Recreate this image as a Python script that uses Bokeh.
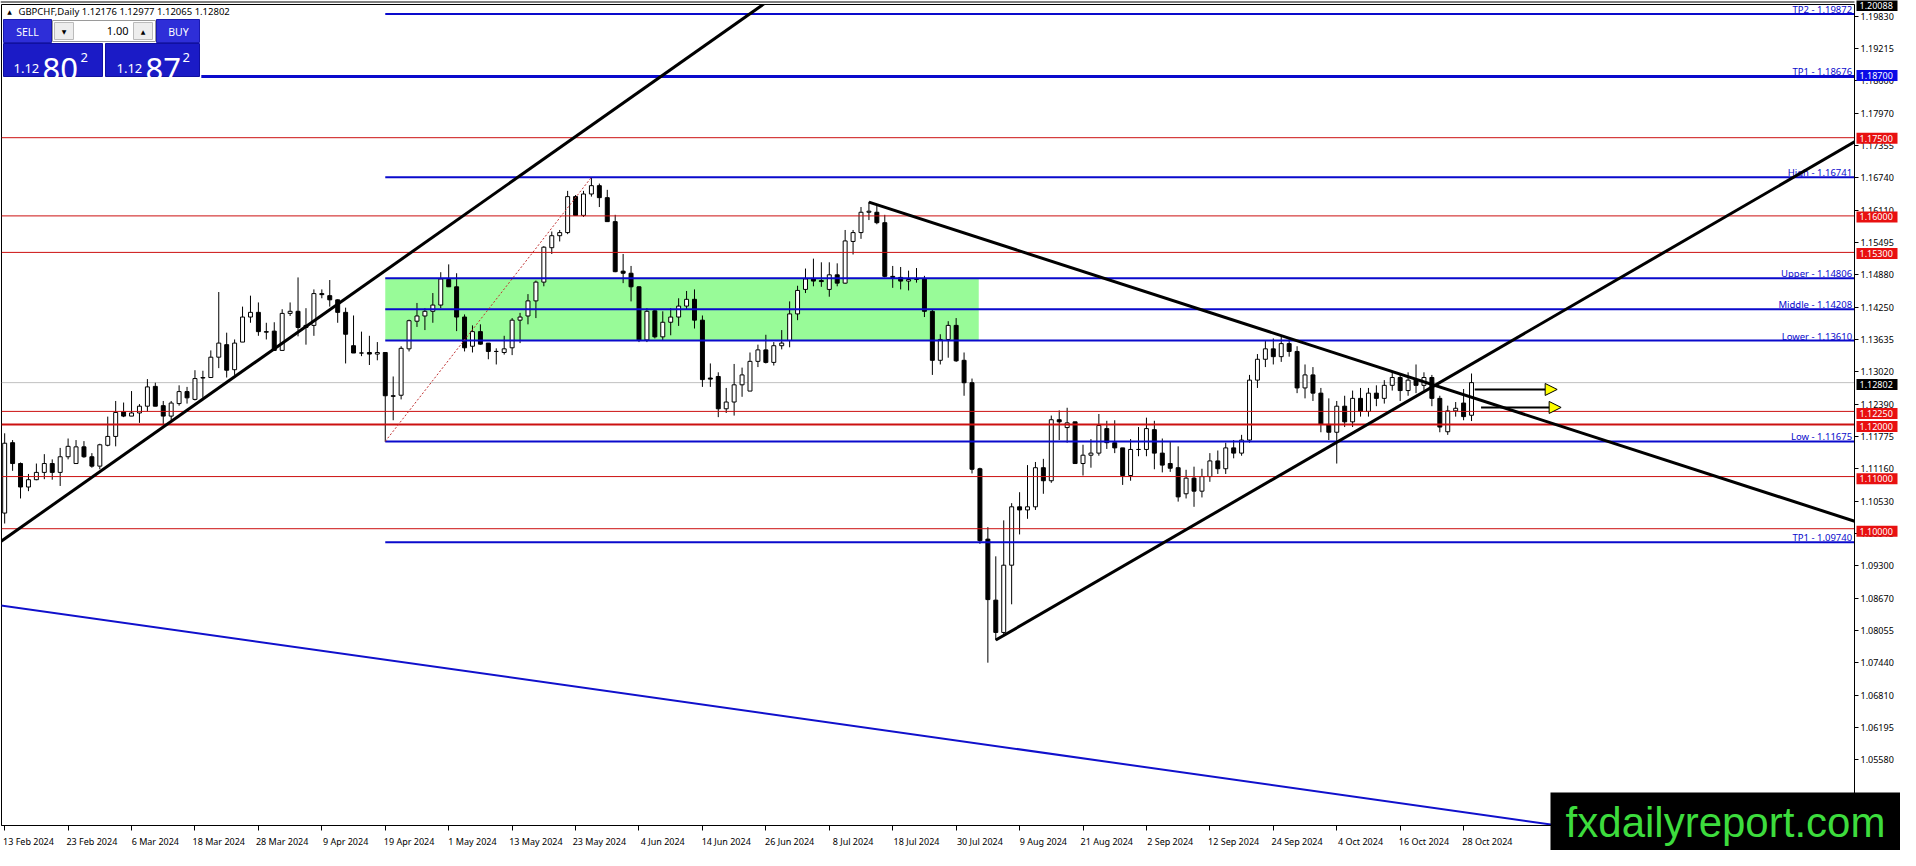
from bokeh.plotting import figure
from bokeh.models import (Range1d, FixedTicker, PrintfTickFormatter, Arrow, NormalHead,
                          ColumnDataSource, GridBox)
from bokeh.core.properties import value
from bokeh.embed import file_html
from bokeh.resources import INLINE

# GBPCHF daily candles, bar 0 = 13 Feb 2024
opens = [1.1030, 1.1165, 1.1125, 1.1080, 1.1094, 1.1108, 1.1125, 1.1108, 1.1138, 1.1125,
         1.1157, 1.1138, 1.1120, 1.1160, 1.1177, 1.1224, 1.1216, 1.1222, 1.1235, 1.1273,
         1.1236, 1.1216, 1.1240, 1.1263, 1.1248, 1.1289, 1.1290, 1.1329, 1.1353, 1.1305,
         1.1358, 1.1406, 1.1415, 1.1378, 1.1379, 1.1342, 1.1413, 1.1417, 1.1386, 1.1390,
         1.1451, 1.1447, 1.1439, 1.1415, 1.1351, 1.1337, 1.1338, 1.1335, 1.1338, 1.1255,
         1.1256, 1.1345, 1.1398, 1.1408, 1.1417, 1.1429, 1.1478, 1.1464, 1.1406, 1.1350,
         1.1378, 1.1356, 1.1340, 1.1338, 1.1347, 1.1400, 1.1408, 1.1437, 1.1473, 1.1539,
         1.1562, 1.1568, 1.1637, 1.1601, 1.1642, 1.1658, 1.1635, 1.1589, 1.1494, 1.1490,
         1.1464, 1.1362, 1.1418, 1.1368, 1.1396, 1.1406, 1.1427, 1.1440, 1.1400, 1.1289,
         1.1292, 1.1230, 1.1243, 1.1276, 1.1264, 1.1321, 1.1343, 1.1319, 1.1351, 1.1361,
         1.1412, 1.1459, 1.1479, 1.1476, 1.1459, 1.1487, 1.1471, 1.1551, 1.1568, 1.1607,
         1.1607, 1.1587, 1.1484, 1.1482, 1.1475, 1.1478, 1.1480, 1.1417, 1.1323, 1.1363,
         1.1390, 1.1323, 1.1280, 1.1115, 1.0980, 1.0863, 1.0801, 1.0930, 1.1042, 1.1036,
         1.1042, 1.1117, 1.1092, 1.1209, 1.1194, 1.1205, 1.1125, 1.1141, 1.1145, 1.1192,
         1.1165, 1.1155, 1.1102, 1.1152, 1.1152, 1.1190, 1.1145, 1.1125, 1.1117, 1.1067,
         1.1097, 1.1072, 1.1100, 1.1130, 1.1115, 1.1155, 1.1145, 1.1170, 1.1285, 1.1325,
         1.1345, 1.1330, 1.1355, 1.1340, 1.1270, 1.1295, 1.1260, 1.1200, 1.1185, 1.1235,
         1.1205, 1.1250, 1.1225, 1.1260, 1.1250, 1.1275, 1.1290, 1.1265, 1.1285, 1.1275,
         1.1290, 1.1250, 1.1186, 1.1226, 1.1241, 1.12176]
highs = [1.1183, 1.1170, 1.1127, 1.1105, 1.1125, 1.1143, 1.1133, 1.1155, 1.1173, 1.1170,
         1.1168, 1.1145, 1.1163, 1.1215, 1.1245, 1.1242, 1.1264, 1.1239, 1.1287, 1.1280,
         1.1245, 1.1245, 1.1275, 1.1272, 1.1304, 1.1303, 1.1342, 1.1454, 1.1376, 1.1363,
         1.1426, 1.1447, 1.1434, 1.1395, 1.1396, 1.1421, 1.1434, 1.1482, 1.1423, 1.1459,
         1.1459, 1.1477, 1.1440, 1.1424, 1.1409, 1.1378, 1.1370, 1.1358, 1.1338, 1.1292,
         1.1350, 1.1401, 1.1433, 1.1423, 1.1452, 1.1492, 1.1507, 1.1490, 1.1411, 1.1390,
         1.1392, 1.1356, 1.1346, 1.1370, 1.1404, 1.1414, 1.1450, 1.1476, 1.1542, 1.1570,
         1.1573, 1.1648, 1.1640, 1.1648, 1.1674, 1.1662, 1.1650, 1.1602, 1.1527, 1.1504,
         1.1465, 1.1423, 1.1420, 1.1417, 1.1423, 1.1442, 1.1456, 1.1459, 1.1409, 1.1317,
         1.1300, 1.1270, 1.1316, 1.1309, 1.1338, 1.1353, 1.1372, 1.1358, 1.1381, 1.1436,
         1.1466, 1.1499, 1.1518, 1.1511, 1.1511, 1.1509, 1.1573, 1.1573, 1.1617, 1.1627,
         1.1619, 1.1602, 1.1504, 1.1502, 1.1495, 1.1500, 1.1485, 1.1420, 1.1373, 1.1398,
         1.1404, 1.1338, 1.1288, 1.1117, 1.1003, 1.0947, 1.1016, 1.1049, 1.1070, 1.1122,
         1.1128, 1.1134, 1.1217, 1.1227, 1.1232, 1.1205, 1.1161, 1.1172, 1.1220, 1.1207,
         1.1208, 1.1155, 1.1172, 1.1195, 1.1213, 1.1207, 1.1173, 1.1167, 1.1158, 1.1113,
         1.1119, 1.1115, 1.1145, 1.1150, 1.1165, 1.1170, 1.1180, 1.1295, 1.1335, 1.1360,
         1.1365, 1.1368, 1.1366, 1.1350, 1.1315, 1.1310, 1.1270, 1.1250, 1.1245, 1.1255,
         1.1265, 1.1270, 1.1270, 1.1275, 1.1285, 1.1300, 1.1295, 1.1300, 1.1315, 1.1300,
         1.1295, 1.1255, 1.1236, 1.1243, 1.1268, 1.12977]
lows = [1.1010, 1.1111, 1.1058, 1.1072, 1.1093, 1.1095, 1.1094, 1.1082, 1.1133, 1.1125,
        1.1136, 1.1117, 1.1114, 1.1158, 1.1158, 1.1214, 1.1216, 1.1203, 1.1225, 1.1235,
        1.1198, 1.1208, 1.1236, 1.1240, 1.1246, 1.1251, 1.1289, 1.1308, 1.1290, 1.1295,
        1.1358, 1.1395, 1.1370, 1.1363, 1.1342, 1.1342, 1.1408, 1.1369, 1.1353, 1.1370,
        1.1442, 1.1426, 1.1395, 1.1317, 1.1337, 1.1331, 1.1314, 1.1323, 1.1167, 1.1208,
        1.1248, 1.1340, 1.1387, 1.1381, 1.1395, 1.1423, 1.1464, 1.1379, 1.1340, 1.1338,
        1.1353, 1.1325, 1.1315, 1.1334, 1.1333, 1.1356, 1.1392, 1.1404, 1.1465, 1.1527,
        1.1551, 1.1565, 1.1601, 1.1598, 1.1637, 1.1617, 1.1589, 1.1492, 1.1471, 1.1436,
        1.1358, 1.1358, 1.1365, 1.1362, 1.1371, 1.1389, 1.1420, 1.1384, 1.1272, 1.1272,
        1.1214, 1.1222, 1.1217, 1.1253, 1.1264, 1.1310, 1.1317, 1.1313, 1.1344, 1.1348,
        1.1400, 1.1452, 1.1465, 1.1464, 1.1445, 1.1465, 1.1470, 1.1526, 1.1556, 1.1592,
        1.1584, 1.1482, 1.1462, 1.1459, 1.1457, 1.1472, 1.1406, 1.1295, 1.1315, 1.1328,
        1.1320, 1.1255, 1.1106, 1.0971, 1.0743, 1.0786, 1.0796, 1.0855, 1.0989, 1.1019,
        1.1036, 1.1067, 1.1088, 1.1170, 1.1165, 1.1125, 1.1102, 1.1117, 1.1140, 1.1153,
        1.1145, 1.1084, 1.1092, 1.1139, 1.1139, 1.1114, 1.1108, 1.1109, 1.1052, 1.1058,
        1.1042, 1.1060, 1.1090, 1.1105, 1.1105, 1.1135, 1.1140, 1.1165, 1.1270, 1.1310,
        1.1315, 1.1320, 1.1330, 1.1260, 1.1250, 1.1245, 1.1185, 1.1170, 1.1125, 1.1195,
        1.1195, 1.1215, 1.1215, 1.1235, 1.1240, 1.1265, 1.1245, 1.1255, 1.1260, 1.1265,
        1.1235, 1.1185, 1.1180, 1.1215, 1.1208, 1.12065]
closes = [1.1164, 1.1125, 1.1080, 1.1094, 1.1108, 1.1125, 1.1108, 1.1138, 1.1158, 1.1157,
          1.1138, 1.1120, 1.1161, 1.1177, 1.1223, 1.1216, 1.1222, 1.1235, 1.1272, 1.1235,
          1.1216, 1.1241, 1.1263, 1.1251, 1.1288, 1.1290, 1.1329, 1.1356, 1.1304, 1.1356,
          1.1406, 1.1415, 1.1378, 1.1377, 1.1342, 1.1413, 1.1417, 1.1386, 1.1390, 1.1451,
          1.1449, 1.1439, 1.1415, 1.1373, 1.1337, 1.1337, 1.1335, 1.1338, 1.1255, 1.1254,
          1.1346, 1.1399, 1.1408, 1.1417, 1.1429, 1.1479, 1.1464, 1.1406, 1.1347, 1.1378,
          1.1354, 1.1340, 1.1340, 1.1345, 1.1400, 1.1406, 1.1437, 1.1473, 1.1540, 1.1562,
          1.1568, 1.1637, 1.1601, 1.1642, 1.1658, 1.1635, 1.1589, 1.1493, 1.1490, 1.1464,
          1.1362, 1.1417, 1.1368, 1.1396, 1.1406, 1.1427, 1.1440, 1.1400, 1.1286, 1.1287,
          1.1230, 1.1243, 1.1276, 1.1295, 1.1321, 1.1343, 1.1319, 1.1351, 1.1356, 1.1412,
          1.1457, 1.1479, 1.1475, 1.1474, 1.1487, 1.1471, 1.1552, 1.1568, 1.1607, 1.1609,
          1.1587, 1.1484, 1.1482, 1.1475, 1.1478, 1.1480, 1.1417, 1.1323, 1.1363, 1.1390,
          1.1322, 1.1280, 1.1114, 1.0977, 1.0864, 1.0801, 1.0930, 1.1042, 1.1036, 1.1042,
          1.1117, 1.1092, 1.1209, 1.1205, 1.1203, 1.1125, 1.1141, 1.1145, 1.1198, 1.1165,
          1.1155, 1.1102, 1.1152, 1.1152, 1.1192, 1.1145, 1.1122, 1.1116, 1.1061, 1.1097,
          1.1072, 1.1100, 1.1130, 1.1115, 1.1155, 1.1145, 1.1170, 1.1285, 1.1325, 1.1345,
          1.1330, 1.1355, 1.1340, 1.1270, 1.1295, 1.1260, 1.1200, 1.1185, 1.1235, 1.1205,
          1.1250, 1.1225, 1.1260, 1.1250, 1.1275, 1.1290, 1.1265, 1.1285, 1.1275, 1.1290,
          1.1250, 1.1195, 1.1226, 1.1231, 1.1215, 1.12802]

tick_bars = list(range(0, 185, 8))
tick_labels = ["13 Feb 2024", "23 Feb 2024", "6 Mar 2024", "18 Mar 2024", "28 Mar 2024",
               "9 Apr 2024", "19 Apr 2024", "1 May 2024", "13 May 2024", "23 May 2024",
               "4 Jun 2024", "14 Jun 2024", "26 Jun 2024", "8 Jul 2024", "18 Jul 2024",
               "30 Jul 2024", "9 Aug 2024", "21 Aug 2024", "2 Sep 2024", "12 Sep 2024",
               "24 Sep 2024", "4 Oct 2024", "16 Oct 2024", "28 Oct 2024"]
price_ticks = [1.19830, 1.19215, 1.18600, 1.17970, 1.17355, 1.16740, 1.16110, 1.15495,
               1.14880, 1.14250, 1.13635, 1.13020, 1.12390, 1.11775, 1.11160, 1.10530,
               1.09915, 1.09300, 1.08670, 1.08055, 1.07440, 1.06810, 1.06195, 1.05580]

# objects on the chart
blue_names = ["TP2", "TP1", "High", "Upper", "Middle", "Lower", "Low", "TP1"]
blue_levels = [1.19872, 1.18676, 1.16741, 1.14806, 1.14208, 1.13610, 1.11675, 1.09740]
blue_start = [48, 24.8, 48, 48, 48, 48, 48, 48]
blue_width = [2, 3, 2, 2, 2, 2, 2, 2]
red_levels = [1.17500, 1.16000, 1.15300, 1.12250, 1.12000, 1.11000, 1.10000]
red_width = [1, 1, 1, 1, 2, 1, 1]
bid_price = 1.12802
zone_bars = [48, 122.85]
zone_prices = [1.13610, 1.14806]
fib_bars = [48, 74]
fib_prices = [1.11675, 1.16741]
# trend lines: two anchor points each (bar, price)
trend_a = [(20, 1.1195), (34, 1.1345)]
trend_b = [(109, 1.16263), (162, 1.13654)]
trend_c = [(125, 1.07864), (185, 1.13158)]
trend_blue = [(0, 1.08519), (200, 1.04219)]
arrow_from = [185.4, 186.2]
arrow_to = [195.8, 196.3]
arrow_prices = [1.12671, 1.12326]
box_prices = [1.20088, 1.18700, 1.17500, 1.16000, 1.15300, 1.12802, 1.12250, 1.12000, 1.11000, 1.10000]
box_colors = ["black", "#0A0AE6", "#E81010", "#E81010", "#E81010", "black",
              "#E81010", "#E81010", "#E81010", "#E81010"]

W, H = 1900, 850
BL, BR, BT, BB = 1, 46, 4, 21
FRAME_W, FRAME_H = W - BL - BR, H - BT - BB
X_START, X_END = -0.4, 233.3
Y_START, Y_END = 1.04307, 1.20055
BLUE = "#0A0ACC"
RED = "#CC1010"
FONT = "Noto Sans"

p = figure(width=W, height=H, x_range=Range1d(X_START, X_END), y_range=Range1d(Y_START, Y_END),
           y_axis_location="right", toolbar_location=None, output_backend="svg",
           min_border_left=BL, min_border_right=BR, min_border_top=BT, min_border_bottom=BB)
p.xgrid.visible = False
p.ygrid.visible = False
p.outline_line_color = "black"
p.background_fill_color = "white"
p.border_fill_color = "white"

yax = p.yaxis[0]
yax.ticker = FixedTicker(ticks=price_ticks)
yax.formatter = PrintfTickFormatter(format="%.5f")
yax.major_tick_out = 4
yax.major_tick_in = 0
yax.minor_tick_out = 0
yax.minor_tick_in = 0
yax.major_label_standoff = 2
yax.major_label_text_font = FONT
yax.major_label_text_font_size = "9px"
yax.major_label_text_color = "black"
yax.axis_line_color = "black"

# MT4 labels start at the tick: labels sit a few bars right, the ticks are minor ticks
xax = p.xaxis[0]
xax.ticker = FixedTicker(ticks=[b + 3 for b in tick_bars], minor_ticks=tick_bars)
xax.major_label_overrides = {b + 3: t for b, t in zip(tick_bars, tick_labels)}
xax.major_tick_out = 0
xax.major_tick_in = 0
xax.minor_tick_out = 5
xax.minor_tick_in = 0
xax.minor_tick_line_color = "black"
xax.major_label_standoff = 4
xax.major_label_text_font = FONT
xax.major_label_text_font_size = "9px"
xax.major_label_text_color = "black"
xax.axis_line_color = "black"

# green zone (background)
p.quad(left=[zone_bars[0]], right=[zone_bars[1]], bottom=[zone_prices[0]], top=[zone_prices[1]],
       fill_color="#98FB98", line_color=None)

# bid line
p.segment(x0=[X_START], x1=[X_END], y0=[bid_price], y1=[bid_price], line_color="#C0C0C0", line_width=1)

# candles
n = len(opens)
src = ColumnDataSource(dict(
    x=list(range(n)), h=highs, l=lows,
    top=[max(o, c) for o, c in zip(opens, closes)],
    bottom=[min(o, c) for o, c in zip(opens, closes)],
    fill=["white" if c >= o else "black" for o, c in zip(opens, closes)],
))
p.segment(x0="x", y0="h", x1="x", y1="l", source=src, line_color="black", line_width=1)
p.vbar(x="x", width=0.5, top="top", bottom="bottom", source=src,
       fill_color="fill", line_color="black", line_width=1)

# horizontal levels
p.segment(x0=[X_START] * len(red_levels), x1=[X_END] * len(red_levels), y0=red_levels, y1=red_levels,
          line_color=RED, line_width=red_width)
p.segment(x0=blue_start, x1=[X_END] * len(blue_levels), y0=blue_levels, y1=blue_levels,
          line_color=BLUE, line_width=blue_width)
p.text(x=[X_END - 0.3] * len(blue_levels), y=blue_levels,
       text=[f"{nm} - {lv:.5f}" for nm, lv in zip(blue_names, blue_levels)],
       text_align="right", text_baseline="bottom", y_offset=2, text_font=value(FONT),
       text_font_size="9.5px", text_color=BLUE)

# dotted fib line
p.line(fib_bars, fib_prices, line_color="#C03030", line_width=1, line_dash="2 2")


def ray(anchor, x_from, x_to):
    (xa, ya), (xb, yb) = anchor
    k = (yb - ya) / (xb - xa)
    return [x_from, x_to], [ya + k * (x_from - xa), ya + k * (x_to - xa)]


for anchor, x0, x1, col, lw in [(trend_a, -2, 110, "black", 3),
                                (trend_b, trend_b[0][0], 240, "black", 3),
                                (trend_c, trend_c[0][0], 240, "black", 3),
                                (trend_blue, -2, 240, "#1010CC", 2)]:
    xs, ys = ray(anchor, x0, x1)
    p.line(xs, ys, line_color=col, line_width=lw)

for xa, xb, yy in zip(arrow_from, arrow_to, arrow_prices):
    p.add_layout(Arrow(x_start=xa, y_start=yy, x_end=xb, y_end=yy, line_color="black", line_width=2,
                       end=NormalHead(size=12, fill_color="#FFFF00", line_color="black", line_width=1)))

# overlay figure in canvas pixels (y down) for things drawn over the axes
ov = figure(width=W, height=H, x_range=Range1d(0, W), y_range=Range1d(H, 0),
            x_axis_location=None, y_axis_location=None, toolbar_location=None,
            output_backend="svg", min_border_left=0, min_border_right=0,
            min_border_top=0, min_border_bottom=0)
ov.outline_line_color = None
ov.background_fill_alpha = 0
ov.border_fill_alpha = 0
ov.grid.visible = False
# keep the overlay frame on the full canvas instead of aligning it with the chart frame
for fig in (p, ov):
    if "frame_align" in fig.properties():
        fig.frame_align = False


def price_y(pr):
    return BT + (Y_END - pr) / (Y_END - Y_START) * FRAME_H


AX = BL + FRAME_W
# double window border at the top
ov.segment(x0=[0], x1=[AX], y0=[1.5], y1=[1.5], line_color="black", line_width=1)

box_y = [max(price_y(pr), 5.0) for pr in box_prices]
ov.quad(left=AX + 2, right=AX + 43, top=[y - 5.5 for y in box_y], bottom=[y + 5.5 for y in box_y],
        fill_color=box_colors, line_color=None)
ov.text(x=AX + 5, y=box_y, text=[f"{pr:.5f}" for pr in box_prices], text_baseline="middle",
        text_align="left", text_font=value(FONT), text_font_size="9px", text_color="white")


def pbox(x0, x1, y0, y1, fill, line=None):
    ov.quad(left=[x0], right=[x1], top=[y0], bottom=[y1], fill_color=fill,
            line_color=line if line else None)


def ptext(x, y, text, size, color="white", align="left", baseline="alphabetic", font=FONT):
    ov.text(x=[x], y=[y], text=[text], text_font=value(font), text_font_size=size,
            text_color=color, text_align=align, text_baseline=baseline)


# trade panel and header text
ptext(9, 11, "\u25b2", "6px", color="black", align="center", baseline="middle", font="DejaVu Sans")
ptext(18, 11, "GBPCHF,Daily  1.12176 1.12977 1.12065 1.12802", "9.5px", color="black",
      baseline="middle")
pbox(3, 51, 19, 42, "#2E2ED8", "#1A1AB0")
pbox(156, 199, 19, 42, "#2E2ED8", "#1A1AB0")
pbox(52, 155, 20, 41, "white", "#9A9A9A")
pbox(54, 73, 22, 39, "#EDEDED", "#BBBBBB")
pbox(133, 152, 22, 39, "#EDEDED", "#BBBBBB")
ptext(63.5, 30.5, "\u25bc", "6px", color="black", align="center", baseline="middle", font="DejaVu Sans")
ptext(142.5, 30.5, "\u25b2", "6px", color="black", align="center", baseline="middle", font="DejaVu Sans")
ptext(128, 30.5, "1.00", "11px", color="black", align="right", baseline="middle")
ptext(27, 31, "SELL", "10.5px", align="center", baseline="middle")
ptext(178, 31, "BUY", "10.5px", align="center", baseline="middle")
pbox(3, 102, 43, 76, "#1B1BC6", "#1010A0")
pbox(105, 199, 43, 76, "#1B1BC6", "#1010A0")
ptext(13, 68, "1.12", "13px")
ptext(42, 68, "80", "31px")
ptext(80, 57, "2", "13px")
ptext(116, 68, "1.12", "13px")
ptext(145, 68, "87", "31px")
ptext(182, 57, "2", "13px")

# watermark
pbox(W - 350, W, H - 58, H, "black")
ptext(W - 175, H - 28, "fxdailyreport.com", "42px", color="#3DDC3D", align="center",
      baseline="middle", font="Liberation Sans")

layout = GridBox(children=[(p, 0, 0), (ov, 0, 0)])
open("out.html", "w").write(file_html(layout, INLINE))
